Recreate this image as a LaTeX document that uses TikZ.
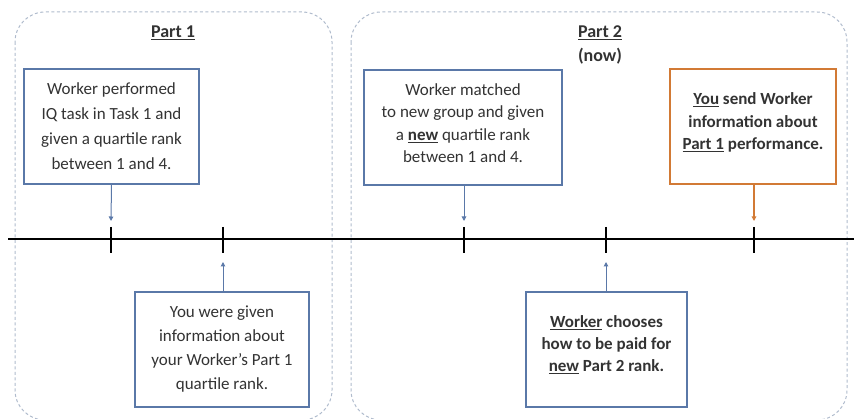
\documentclass[tikz,border=0pt]{standalone}
\usepackage{fontspec}
\setmainfont{Carlito}
\usetikzlibrary{arrows.meta}
\definecolor{boxblue}{HTML}{5A78A8}
\definecolor{boxorange}{HTML}{D27A35}
\definecolor{dashgray}{HTML}{AFBBCC}
\definecolor{txt}{HTML}{333333}
\tikzset{
  partframe/.style={draw=dashgray, line width=1pt, dash pattern=on 3pt off 2.5pt, rounded corners=30pt},
  infobox/.style={draw=boxblue, line width=1.2pt, fill=white, align=center, inner sep=0pt, text=txt, font=\fontsize{17}{23}\selectfont},
  orangebox/.style={infobox, draw=boxorange, line width=1.6pt},
  parttitle/.style={font=\fontsize{18}{22}\selectfont\bfseries, text=txt, inner sep=0pt},
  tick/.style={line width=2.2pt, black},
  barrow/.style={draw=boxblue, line width=1pt, -{Triangle[length=4.5pt,width=4.5pt]}},
  oarrow/.style={draw=boxorange, line width=1.2pt, -{Triangle[length=4.5pt,width=4.5pt]}},
}
\begin{document}
\begin{tikzpicture}[x=1pt,y=-1pt]
\useasboundingbox (0,0) rectangle (854,419);
% part frames
\draw[partframe] (15,12) rectangle (332,420);
\draw[partframe] (351,12) rectangle (847,420);
\node[parttitle] (p1) at (173,33) {\underline{Part 1}};
\node[parttitle] (p2) at (600,33) {\underline{Part 2}};
\node[parttitle] (now) at (600,56) {(now)};
% timeline
\coordinate (tl) at (8,239);
\coordinate (tr) at (854,239);
\draw[line width=2.6pt] (tl) -- (tr);
\foreach \n/\x in {1/111,2/223,3/464,4/606,5/754}{
  \coordinate (tt\n) at (\x,227);
  \coordinate (tb\n) at (\x,253);
  \draw[tick] (tt\n) -- (tb\n);
}
% boxes
\node[infobox, minimum width=175pt, minimum height=115pt, font=\fontsize{17}{25}\selectfont] (b1) at (111.5,126.5)
  {Worker performed\\IQ task in Task 1 and\\given a quartile rank\\between 1 and 4.};
\node[infobox, minimum width=174pt, minimum height=115pt, font=\fontsize{17}{24}\selectfont] (b2) at (222,349.5)
  {You were given\\information about\\your Worker’s Part 1\\quartile rank.};
\node[infobox, minimum width=198pt, minimum height=115pt, font=\fontsize{17}{22.5}\selectfont] (b3) at (463,127.5)
  {Worker matched\\to new group and given\\a \textbf{\underline{new}} quartile rank\\between 1 and 4.\\[-14pt]};
\node[orangebox, minimum width=166pt, minimum height=115pt, font=\fontsize{17}{22.5}\selectfont\bfseries] (b4) at (753,126.5)
  {\underline{You} send Worker\\information about\\\underline{Part 1} performance.\\[-12pt]};
\node[infobox, minimum width=161pt, minimum height=115pt, font=\fontsize{17}{22}\selectfont\bfseries] (b5) at (606.5,349.5)
  {\underline{Worker} chooses\\how to be paid for\\\underline{new} Part 2 rank.\\[-10pt]};
% arrows
\coordinate (a1) at (111,221);
\coordinate (a2) at (223,262);
\coordinate (a3) at (464,221);
\coordinate (a4) at (606,262);
\coordinate (a5) at (754,221);
\draw[barrow] (b1.south) -- (a1);
\draw[barrow] (b2.north -| a2) -- (a2);
\draw[barrow] (b3.south -| a3) -- (a3);
\draw[barrow] (b5.north -| a4) -- (a4);
\draw[oarrow] (b4.south -| a5) -- (a5);
\end{tikzpicture}
\end{document}
